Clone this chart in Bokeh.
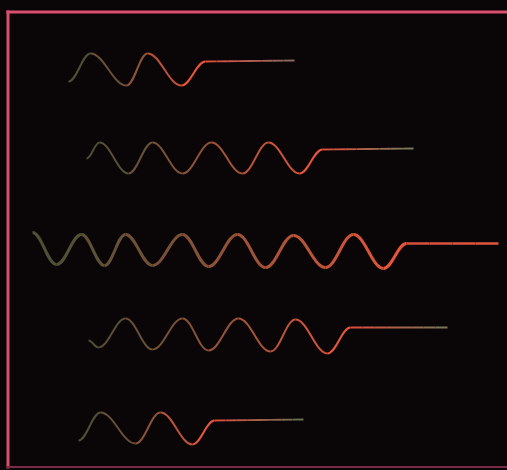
import numpy as np
from bokeh.plotting import figure
from bokeh.models import Range1d, ColumnDataSource
from bokeh.embed import file_html
from bokeh.resources import INLINE

# ---- data: turning points of each oscilloscope trace (time, level) ----
t1 = [68, 90, 126, 147, 181, 205]
v1 = [81, 53, 85, 53, 85, 61]

t2 = [86, 99, 128, 152, 182, 211, 242, 268, 299, 322]
v2 = [158, 142, 173, 142, 173, 142, 173, 142, 173, 149]

t3 = [32, 56, 81, 104, 125, 152, 182, 208, 237, 265, 293, 325, 353, 383, 406]
v3 = [232, 264, 234, 265, 234, 265, 234, 266, 234, 267, 235, 267, 234, 268, 243]

t4 = [88, 98, 125, 152, 182, 208, 238, 270, 295, 327, 350]
v4 = [340, 347, 318, 349, 318, 350, 318, 351, 319, 353, 327]

t5 = [78, 100, 135, 160, 192, 214]
v5 = [440, 412, 443, 412, 444, 420]

flat_end_t = [294, 413, 498, 447, 303]
flat_end_v = [60, 148, 243, 327, 419]

# ---- style ----
BG = "#0a0507"
FRAME = "#d9506e"
DIM = "#4e5036"
BRIGHT = "#e8553a"
END_COLORS = ["#8a6a62", "#7a7a5a", "#e0583c", "#7a7658", "#6a7050"]
WIDTHS = [2.0, 2.0, 3.0, 2.0, 2.0]


def hx(c):
    c = c.lstrip("#")
    return np.array([int(c[i:i + 2], 16) for i in (0, 2, 4)], dtype=float)


def lerp(a, b, f):
    r = hx(a) * (1 - f) + hx(b) * f
    return "#%02x%02x%02x" % tuple(int(round(v)) for v in r)


p = figure(width=507, height=470, x_range=Range1d(0, 507), y_range=Range1d(470, 0),
           toolbar_location=None, output_backend="svg", min_border=0,
           background_fill_color=BG, border_fill_color=BG, outline_line_color=None)
p.axis.visible = False
p.grid.visible = False

# frame
p.segment(x0=[7.5, 6], y0=[10, 11.5], x1=[7.5, 507], y1=[468, 11.5],
          line_color=FRAME, line_width=3)
p.segment(x0=[6], y0=[466.5], x1=[507], y1=[466.5], line_color="#7a2a45", line_width=2)

traces = [(t1, v1), (t2, v2), (t3, v3), (t4, v4), (t5, v5)]
K = 0.38
for i, (ts, vs) in enumerate(traces):
    ts = np.array(ts, float)
    vs = np.array(vs, float)
    n = len(ts) - 1
    dx = ts[1:] - ts[:-1]
    cols = [lerp(DIM, BRIGHT, (j / max(n - 1, 1)) ** 1.3) for j in range(n)]
    src = ColumnDataSource(dict(
        x0=ts[:-1], y0=vs[:-1], x1=ts[1:], y1=vs[1:],
        cx0=ts[:-1] + K * dx, cy0=vs[:-1],
        cx1=ts[1:] - K * dx, cy1=vs[1:], c=cols))
    p.bezier(x0="x0", y0="y0", x1="x1", y1="y1", cx0="cx0", cy0="cy0",
             cx1="cx1", cy1="cy1", line_color="c", line_width=WIDTHS[i],
             source=src)
    # flat tail, coloured from bright to the fading end colour
    xs = np.linspace(ts[-1], flat_end_t[i], 9)
    ys = np.linspace(vs[-1], flat_end_v[i], 9)
    fc = [lerp("#d8503e", END_COLORS[i], k / 7) for k in range(8)]
    p.segment(x0=xs[:-1], y0=ys[:-1], x1=xs[1:], y1=ys[1:], line_color=fc,
              line_width=WIDTHS[i] * 0.9)

html = file_html(p, INLINE)
html = html.replace("<head>", "<head><style>html,body{background:%s;}</style>" % BG, 1)
open("out.html", "w").write(html)
